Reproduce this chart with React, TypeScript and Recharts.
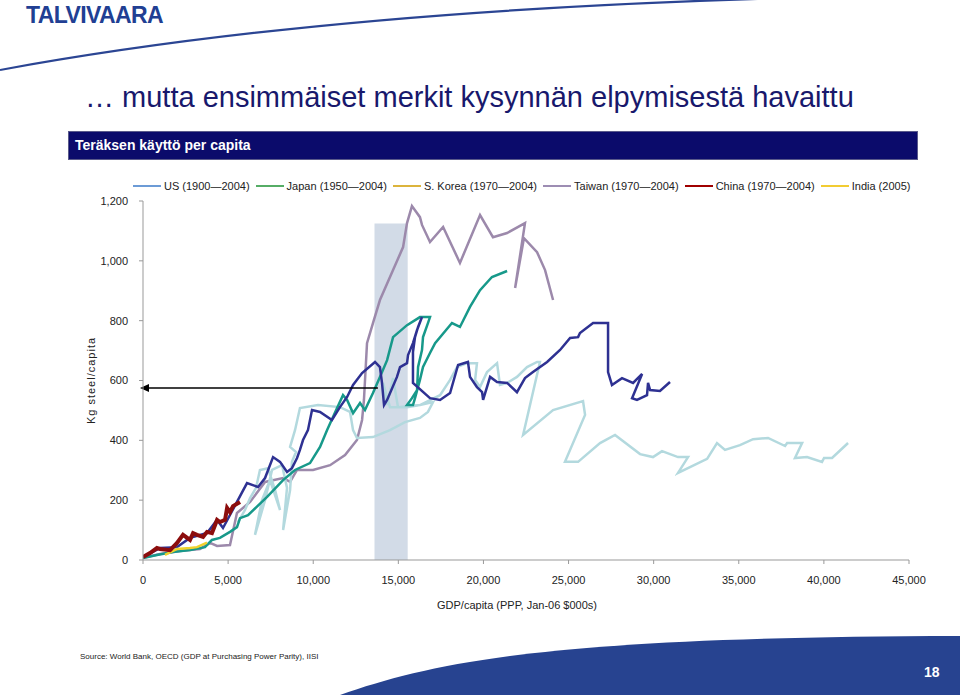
import React from 'react';
import { LineChart, Line, XAxis, YAxis, ReferenceArea, ReferenceLine, Legend } from 'recharts';

// ---------- DATA ----------
const seriesNames = [
  'US (1900\u20142004)',
  'Japan (1950\u20142004)',
  'S. Korea (1970\u20142004)',
  'Taiwan (1970\u20142004)',
  'China (1970\u20142004)',
  'India (2005)',
];

const xTicks = [0, 5000, 10000, 15000, 20000, 25000, 30000, 35000, 40000, 45000];
const yTicks = [0, 200, 400, 600, 800, 1000, 1200];

// [GDP per capita, kg steel per capita]
const usValues = [
  [5580,127],[5990,167],[6290,207],[6640,241],[6870,301],[7340,307],[7760,234],[8050,167],[7460,267],[6990,200],
  [6580,84],[7170,200],[7580,301],[8170,317],[8460,241],[8230,100],[8640,234],[8750,328],[8990,361],[8640,378],
  [8930,434],[9220,508],[10280,518],[11570,511],[12160,495],[12340,434],[12570,408],[13510,411],[14510,434],[15390,461],
  [16270,475],[16740,495],[17040,528],[16270,518],[15510,511],[14510,511],[14100,592],[14340,518],[14690,608],[14980,511],
  [16270,518],[17450,551],[18040,602],[18450,645],[19040,658],[19620,658],[19510,602],[19800,578],[20210,628],[20800,658],
  [20970,585],[21390,592],[21970,612],[22560,645],[23150,662],[23320,662],[22330,418],[24090,501],[25850,531],[25970,485],
  [24790,328],[25560,328],[26850,391],[27730,418],[29200,354],[29960,344],[30490,364],[31430,344],[32020,344],[31430,291],
  [33140,338],[33720,391],[34190,368],[35070,384],[35840,404],[36720,408],[37720,381],[37840,391],[38720,391],[38300,341],
  [39010,344],[39890,328],[40010,341],[40480,341],[41420,391],
];

const japanValues = [
  [0,10],[1000,40],[2000,43],[2760,74],[3760,90],[4350,134],[4700,107],[5520,194],[6110,257],[6760,244],
  [7170,274],[7640,344],[8050,328],[8460,294],[8750,307],[9050,341],[9220,368],[9400,401],[9690,434],[9930,501],
  [10400,495],[11100,468],[11570,511],[11990,545],[12340,585],[12870,625],[13630,662],[13920,645],[14040,592],[14160,518],
  [14340,535],[14920,612],[15100,645],[15510,658],[15570,685],[15860,725],[16100,769],[16390,812],[16160,779],[15980,745],
  [15860,695],[15860,592],[16860,541],[17450,535],[18040,558],[18510,652],[19090,662],[19210,612],[19620,578],[19920,561],
  [19980,535],[20390,612],[20800,595],[21390,592],[21970,561],[22440,608],[22910,628],[23740,662],[24500,702],[25090,742],
  [25560,745],[25670,759],[26440,792],[27320,792],[27320,628],[27550,585],[28140,608],[28790,592],[29320,622],[28730,541],
  [29020,535],[29610,551],[29670,592],[29790,568],[30370,565],[30960,595],
];

const koreaValues = [
  [0,7],[820,17],[1760,27],[2760,33],[3640,43],[4050,67],[4520,74],[5110,94],[5520,110],[5700,140],
  [6170,150],[7290,211],[8230,267],[8930,301],[9810,324],[10400,378],[10810,434],[11400,508],[11750,551],[11990,535],
  [12340,491],[12750,525],[13040,501],[13510,558],[13920,612],[14340,668],[14690,745],[15510,785],[16270,812],[16860,812],
  [16740,792],[16450,745],[16390,702],[16160,645],[16100,568],[15800,541],[15510,518],[15860,518],[15980,541],[16270,602],
  [16450,645],[16860,692],[17160,725],[18150,792],[18620,779],[19210,846],[19800,902],[20500,946],[21390,966],
];

const taiwanValues = [
  [0,7],[1000,20],[2170,30],[3350,37],[3940,57],[4350,47],[5110,50],[5520,157],[6290,194],[7170,261],
  [8230,274],[8640,261],[9050,301],[9990,301],[10990,317],[11870,351],[12570,401],[12870,468],[12980,535],[13160,725],
  [13510,792],[13920,869],[14690,969],[15280,1046],[15510,1126],[15800,1183],[16270,1146],[16390,1120],[16860,1063],[17630,1113],
  [18620,993],[19800,1153],[20560,1079],[21390,1093],[22440,1126],[21860,909],[22380,1076],[23150,1029],[23620,969],[24090,869],
];

const chinaValues = [
  [0,10],[410,23],[820,40],[1000,37],[1590,33],[2000,57],[2350,84],[2760,67],[2940,90],[3170,84],
  [3530,77],[3760,94],[4050,90],[4350,134],[4520,127],[4820,134],[4940,174],[5110,160],[5290,180],[5700,194],
];

const indiaValues = [
  [1290,17],[2000,37],[2760,40],[3170,43],[3760,58],
];

// highlighted GDP band and arrow level
const bandX = [13600, 15550];
const bandTop = 1125;
const arrowFromX = 13800;
const arrowLevel = 575;

// ---------- STYLES ----------
const lineColors = {
  us: '#b3d9de',
  japan: '#2e3192',
  korea: '#17998a',
  taiwan: '#9c89ab',
  china: '#8c0d0d',
  india: '#f0d22c',
};
const legendColors = ['#6c9bd6', '#56ad66', '#dcb43c', '#9d8db3', '#a00000', '#f2cc32'];

const FONT = '"Liberation Sans", Arial, sans-serif';

const toPts = (arr: number[][]) => arr.map(([x, y]) => ({ x, y }));

const fmt = (v: number) => v.toLocaleString('en-US');

const LegendContent = () => (
  <div style={{ display: 'flex', alignItems: 'center', fontFamily: FONT, fontSize: 11, color: '#222', whiteSpace: 'nowrap' }}>
    {seriesNames.map((n, i) => (
      <div key={n} style={{ display: 'flex', alignItems: 'center', marginRight: 6 }}>
        <span style={{ display: 'inline-block', width: 28, height: 2, background: legendColors[i], marginRight: 3 }} />
        <span>{n}</span>
      </div>
    ))}
  </div>
);

const Arrow = (p: any) => {
  const { x1, y1, x2, y2 } = p;
  const left = Math.min(x1, x2);
  const right = Math.max(x1, x2);
  const y = (y1 + y2) / 2;
  return (
    <g>
      <line x1={left + 4} y1={y} x2={right} y2={y} stroke="#000" strokeWidth={1.3} />
      <polygon points={`${left - 3},${y} ${left + 6},${y - 4} ${left + 6},${y + 4}`} fill="#000" />
    </g>
  );
};

export default function App() {
  return (
    <div style={{ position: 'absolute', left: 0, top: 0, width: 960, height: 695, background: '#fff', overflow: 'hidden', fontFamily: FONT }}>
      {/* decorative swooshes */}
      <svg width={960} height={695} style={{ position: 'absolute', left: 0, top: 0 }}>
        <path d="M0,70 Q380,0 960,-5" stroke="#2b4593" strokeWidth={2.2} fill="none" />
        <path d="M340,695 C440,660 560,637 960,636 L960,695 Z" fill="#274390" />
      </svg>
      {/* logo */}
      <div style={{ position: 'absolute', left: 26, top: 2, fontSize: 23, fontWeight: 'bold', color: '#213f93', letterSpacing: -0.6 }}>
        TALVIVAARA
      </div>
      {/* title */}
      <div style={{ position: 'absolute', left: 85, top: 81, fontSize: 29, color: '#18186c', whiteSpace: 'nowrap' }}>
        {'\u2026 mutta ensimmäiset merkit kysynnän elpymisestä havaittu'}
      </div>
      {/* banner */}
      <div style={{ position: 'absolute', left: 68, top: 131, width: 850, height: 29, background: '#0b0b6b', boxSizing: 'border-box', border: '1px solid #5a5a8a' }}>
        <div style={{ position: 'absolute', left: 6, top: 5, fontSize: 14, fontWeight: 'bold', color: '#fff' }}>Teräksen käyttö per capita</div>
      </div>

      <div style={{ position: 'absolute', left: 0, top: 0 }}>
        <LineChart width={960} height={695} margin={{ top: 201, right: 51, bottom: 105, left: 83 }}>
          <ReferenceArea x1={bandX[0]} x2={bandX[1]} y1={0} y2={bandTop} fill="#d2dbe7" fillOpacity={1} stroke="none" />
          <XAxis
            type="number"
            dataKey="x"
            domain={[0, 45000]}
            ticks={xTicks}
            tickFormatter={fmt}
            height={30}
            tickSize={4}
            tickMargin={12}
            axisLine={{ stroke: '#999' }}
            tickLine={{ stroke: '#999' }}
            tick={{ fill: '#222', fontSize: 11, fontFamily: FONT }}
            allowDataOverflow
            label={{ value: 'GDP/capita (PPP, Jan-06 $000s)', position: 'bottom', offset: 11, dx: -9, style: { fill: '#222', fontSize: 11, fontFamily: FONT } }}
          />
          <YAxis
            type="number"
            dataKey="y"
            domain={[0, 1200]}
            ticks={yTicks}
            tickFormatter={fmt}
            width={60}
            tickSize={4}
            tickMargin={11}
            axisLine={{ stroke: '#999' }}
            tickLine={{ stroke: '#999' }}
            tick={{ fill: '#222', fontSize: 11, fontFamily: FONT }}
            allowDataOverflow
            label={{ value: 'Kg steel/capita', angle: -90, position: 'insideLeft', offset: 8, style: { textAnchor: 'middle', fill: '#222', fontSize: 11, fontFamily: FONT, letterSpacing: 1 } }}
          />
          <Legend
            verticalAlign="middle"
            align="center"
            layout="horizontal"
            content={LegendContent}
            wrapperStyle={{ left: 133, top: 180, width: 800 }}
          />
          <Line data={toPts(taiwanValues)} dataKey="y" name={seriesNames[3]} stroke={lineColors.taiwan} strokeWidth={2.5} dot={false} isAnimationActive={false} strokeLinejoin="miter" />
          <Line data={toPts(usValues)} dataKey="y" name={seriesNames[0]} stroke={lineColors.us} strokeWidth={2.5} dot={false} isAnimationActive={false} />
          <Line data={toPts(koreaValues)} dataKey="y" name={seriesNames[2]} stroke={lineColors.korea} strokeWidth={2.5} dot={false} isAnimationActive={false} />
          <Line data={toPts(japanValues)} dataKey="y" name={seriesNames[1]} stroke={lineColors.japan} strokeWidth={2.5} dot={false} isAnimationActive={false} />
          <Line data={toPts(indiaValues)} dataKey="y" name={seriesNames[5]} stroke={lineColors.india} strokeWidth={2.5} dot={false} isAnimationActive={false} />
          <Line data={toPts(chinaValues)} dataKey="y" name={seriesNames[4]} stroke={lineColors.china} strokeWidth={4} dot={false} isAnimationActive={false} />
          <ReferenceLine segment={[{ x: arrowFromX, y: arrowLevel }, { x: 0, y: arrowLevel }]} shape={Arrow} ifOverflow="visible" />
        </LineChart>
      </div>

      {/* footer */}
      <div style={{ position: 'absolute', left: 80, top: 652, fontSize: 8, color: '#222', whiteSpace: 'nowrap' }}>
        Source: World Bank, OECD (GDP at Purchasing Power Parity), IISI
      </div>
      <div style={{ position: 'absolute', left: 924, top: 664, fontSize: 14, color: '#fff', fontWeight: 'bold' }}>18</div>
    </div>
  );
}
